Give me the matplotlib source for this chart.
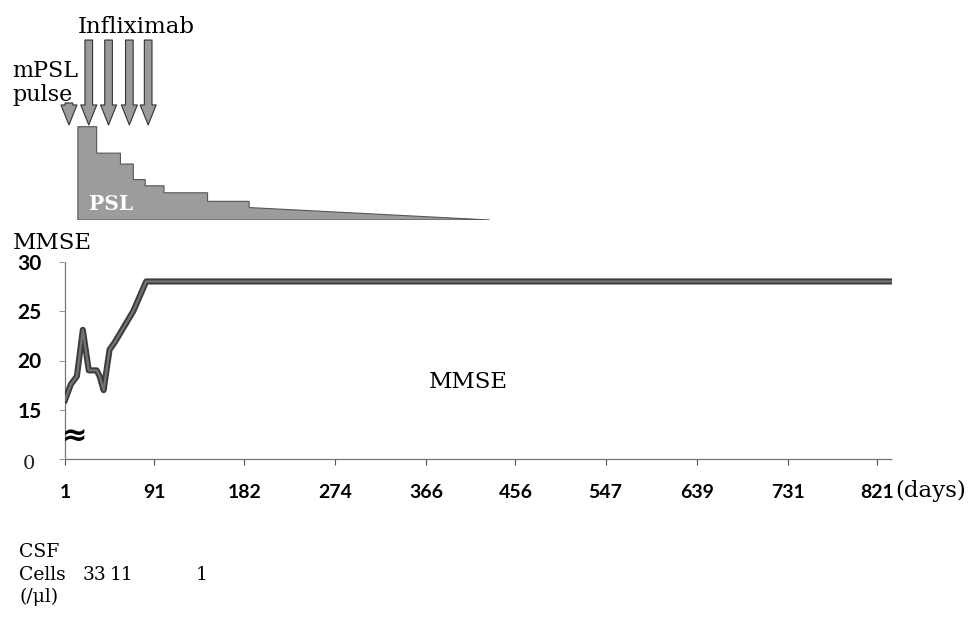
import matplotlib
matplotlib.use('Agg')
import matplotlib.pyplot as plt
import matplotlib.transforms as mtransforms

# --- data ---
mmse_days = [1, 7, 13, 19, 25, 33, 36, 40, 46, 51, 70, 83, 835]
mmse_score = [16, 17.6, 18.4, 23.1, 19, 19, 18.4, 17, 21.1, 21.8, 25, 28, 28]

psl_days = [14, 33, 57, 70, 82, 101, 145, 187]   # start day of each dose step
psl_dose = [60, 43, 36, 26, 22, 17.5, 12, 8]      # rough dose (mg)
psl_end_day = 430                                  # taper reaches zero

mpsl_day = 5
infliximab_days = [25, 45, 66, 85]

tick_days = [1, 91, 182, 274, 366, 456, 547, 639, 731, 821]
y_ticks = [10, 15, 20, 25, 30]          # 10 stands for 0 (broken axis)
y_labels = ['', '15', '20', '25', '30']

csf_days = [31, 58, 139]
csf_cells = ['33', '11', '1']

SERIF = 'DejaVu Serif'
SANS = 'Lato'
W, H = 972, 621

fig = plt.figure(figsize=(W / 100, H / 100), dpi=100)

# --- MMSE panel ---
ax = fig.add_axes([65 / W, 1 - 459.3 / H, 826.7 / W, 197.6 / H])
ax.set_xlim(1, 836)
ax.set_ylim(10, 30)

ax.plot(mmse_days, mmse_score, color='#3c3c3c', lw=4.4, zorder=3)
ax.plot(mmse_days, mmse_score, color='#747474', lw=1.6, zorder=4)

for s in ['top', 'right']:
    ax.spines[s].set_visible(False)
for s in ['left', 'bottom']:
    ax.spines[s].set_linestyle((0, (1, 1)))
    ax.spines[s].set_color('#777777')
    ax.spines[s].set_linewidth(0.9)

ax.set_xticks(tick_days)
ax.set_xticklabels([str(d) for d in tick_days])
ax.set_yticks(y_ticks)
ax.set_yticklabels(y_labels)
ax.tick_params(axis='x', length=4, width=0.8, color='#555555', pad=14, labelsize=14)
ax.tick_params(axis='y', length=4, width=0.6, color='#888888', pad=13, labelsize=15)
for lab in ax.get_xticklabels() + ax.get_yticklabels():
    lab.set_fontfamily(SANS)
    lab.set_fontweight('bold')

# the "0" and the break mark
yx = mtransforms.blended_transform_factory(ax.transAxes, ax.transData)
ax.text(-0.0435, 9.5, '0', transform=yx, ha='center', va='center',
        family=SERIF, fontsize=14, color='#222222', clip_on=False)
ax.text(10.6, 12.2, '≈', ha='center', va='center', fontsize=22,
        fontweight='bold', family='DejaVu Sans', clip_on=False, zorder=5)

ax.text(408, 17.19, 'MMSE', ha='center', va='baseline', family=SERIF, fontsize=16.5)

# --- PSL / treatment panel ---
ax_psl = fig.add_axes([65 / W, 1 - 220 / H, 826.7 / W, 220 / H])
ax_psl.set_xlim(1, 836)
ax_psl.set_ylim(0, 141.5)
ax_psl.axis('off')

xs = [psl_days[0]]
ys = [0]
for i, (d, v) in enumerate(zip(psl_days, psl_dose)):
    xs.append(d)
    ys.append(v)
    if i + 1 < len(psl_days):
        xs.append(psl_days[i + 1])
        ys.append(v)
    else:
        xs.append(psl_end_day)
        ys.append(0)
ax_psl.fill(xs, ys, fc='#9c9c9c', ec='#555555', lw=0.8)
ax_psl.text(25, 6.4, 'PSL', color='white', fontweight='bold', family=SERIF,
            fontsize=14.5, va='baseline', ha='left')

arrow_style = 'simple,head_length=1.44,head_width=1.15,tail_width=0.55'
for d, top in [(mpsl_day, 0.532)] + [(d, 0.818) for d in infliximab_days]:
    ax_psl.annotate('', xy=(d, 0.432), xytext=(d, top),
                    xycoords=('data', 'axes fraction'),
                    textcoords=('data', 'axes fraction'),
                    arrowprops=dict(arrowstyle=arrow_style, fc='#9a9a9a', ec='#333333',
                                    lw=0.8, shrinkA=0, shrinkB=0, mutation_scale=10))

# --- labels ---
fig.text(78 / W, 1 - 32.7 / H, 'Infliximab', family=SERIF, fontsize=16.5, va='baseline')
fig.text(12 / W, 1 - 101 / H, 'mPSL\npulse', family=SERIF, fontsize=16,
         va='baseline', linespacing=1.1)
fig.text(13 / W, 1 - 249 / H, 'MMSE', family=SERIF, fontsize=16.5, va='baseline')
fig.text(895 / W, 1 - 497 / H, '(days)', family=SERIF, fontsize=16.5, va='baseline')

fig.text(19 / W, 1 - 557 / H, 'CSF', family=SERIF, fontsize=13.5, va='baseline')
fig.text(19 / W, 1 - 580 / H, 'Cells', family=SERIF, fontsize=13.5, va='baseline')
fig.text(19 / W, 1 - 602 / H, '(/μl)', family=SERIF, fontsize=13.5, va='baseline')
xf = mtransforms.blended_transform_factory(ax.transData, fig.transFigure)
for d, c in zip(csf_days, csf_cells):
    fig.text(d, 1 - 580 / H, c, transform=xf, family=SERIF, fontsize=13.5,
             ha='center', va='baseline')

fig.savefig('out.png', dpi=100)
